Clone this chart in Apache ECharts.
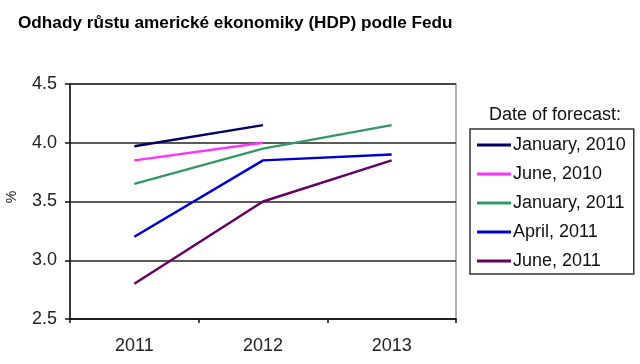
<!DOCTYPE html>
<html>
<head>
<meta charset="utf-8">
<script src="https://cdn.jsdelivr.net/npm/echarts@6/dist/echarts.min.js"></script>
<style>html,body{margin:0;padding:0;background:#fff}#c{width:640px;height:364px}</style>
</head>
<body>
<div id="c"></div>
<script>
const categories = ['2011', '2012', '2013'];
const seriesNames = ['January, 2010', 'June, 2010', 'January, 2011', 'April, 2011', 'June, 2011'];
const jan2010 = [3.97, 4.15, null];
const jun2010 = [3.85, 4.0, null];
const jan2011 = [3.65, 3.95, 4.15];
const apr2011 = [3.2, 3.85, 3.9];
const jun2011 = [2.8, 3.5, 3.85];
const yTicks = ['2.5', '3.0', '3.5', '4.0', '4.5'];
const colors = ['#000066', '#ff33ff', '#339966', '#0000cc', '#660066'];
const values = [jan2010, jun2010, jan2011, apr2011, jun2011];

const font = 'Liberation Sans, Arial, sans-serif';
const chart = echarts.init(document.getElementById('c'), null, {renderer: 'canvas'});
chart.setOption({
  animation: false,
  backgroundColor: '#fff',
  title: {
    text: 'Odhady růstu americké ekonomiky (HDP) podle Fedu',
    left: 13, top: 10,
    textStyle: {fontFamily: font, fontSize: 17.2, fontWeight: 'bold', color: '#000'}
  },
  grid: {left: 70, right: 184, top: 84, bottom: 45, show: true, borderColor: '#999', borderWidth: 1.5,
    containLabel: false, outerBoundsMode: 'none'},
  legend: {
    orient: 'vertical',
    left: 470, top: 129,
    padding: [7, 8, 4, 7],
    itemGap: 11,
    itemWidth: 34, itemHeight: 3,
    borderColor: '#333', borderWidth: 1.5,
    icon: 'rect',
    textStyle: {fontFamily: font, fontSize: 18, lineHeight: 18, color: '#111', padding: [0, 0, 0, -3]},
    data: seriesNames
  },
  graphic: [{
    type: 'text', x: 555, y: 115,
    style: {text: 'Date of forecast:', font: '18px ' + font, fill: '#111', align: 'center', verticalAlign: 'middle'}
  }, {
    type: 'text', x: 12, y: 197, rotation: Math.PI / 2,
    style: {text: '%', font: '14px ' + font, fill: '#222', align: 'center', verticalAlign: 'middle'}
  }],
  xAxis: {
    type: 'category',
    data: categories,
    boundaryGap: true,
    axisLine: {lineStyle: {color: '#111', width: 1.5}},
    axisTick: {show: true, length: 4, lineStyle: {color: '#111', width: 1.5}},
    axisLabel: {fontFamily: font, fontSize: 18, color: '#222', margin: 18}
  },
  yAxis: {
    type: 'value',
    min: 2.5, max: 4.5, interval: 0.5,
    axisLine: {show: true, lineStyle: {color: '#111', width: 1.5}},
    axisTick: {show: true, length: 5, lineStyle: {color: '#111', width: 1.5}},
    axisLabel: {fontFamily: font, fontSize: 18, color: '#222', margin: 13,
      formatter: v => yTicks[Math.round((v - 2.5) / 0.5)]},
    splitLine: {show: true, lineStyle: {color: '#222', width: 1.5}}
  },
  series: seriesNames.map((n, i) => ({
    name: n, type: 'line', data: values[i],
    symbol: 'none', connectNulls: false,
    lineStyle: {color: colors[i], width: 2.5},
    itemStyle: {color: colors[i]}
  }))
});
</script>
</body>
</html>
